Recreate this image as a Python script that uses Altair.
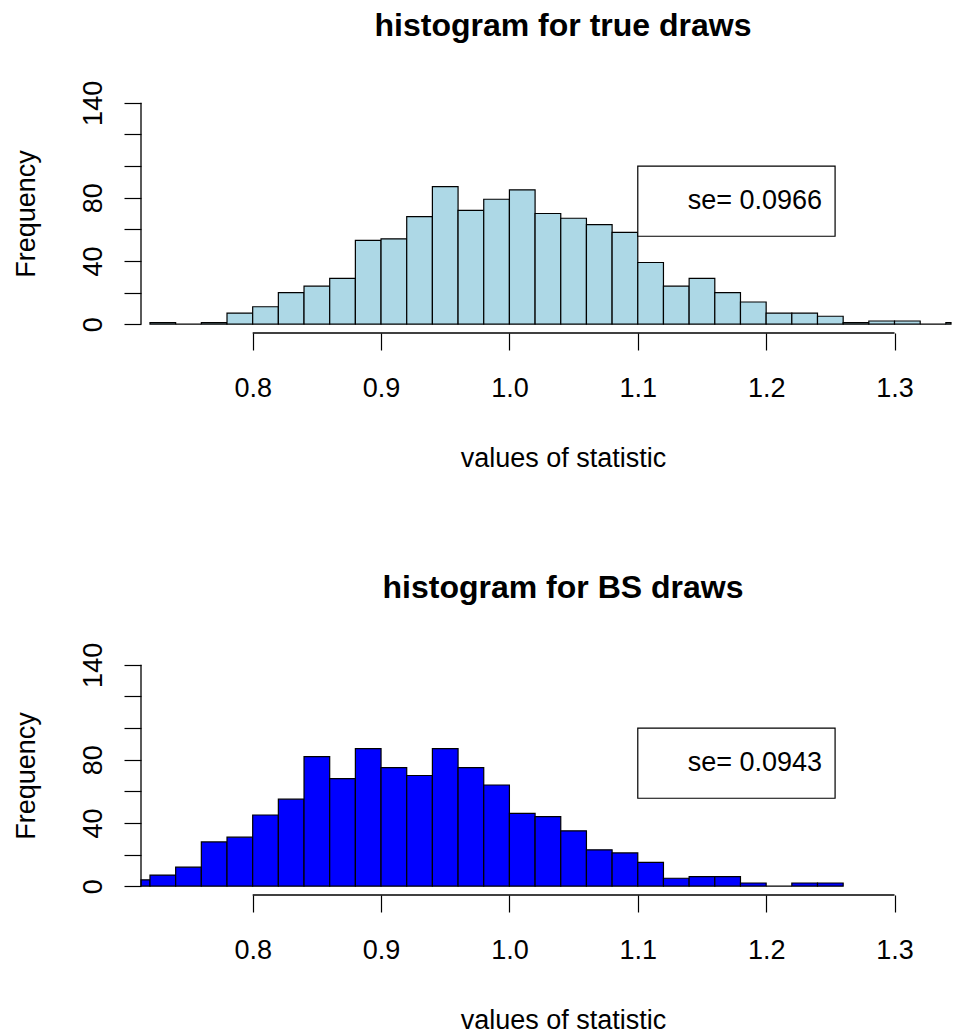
import altair as alt
import pandas as pd

# ---------------- data ----------------
bin_width = 0.02

true_lo = [0.72, 0.74, 0.76, 0.78, 0.80, 0.82, 0.84, 0.86, 0.88, 0.90, 0.92,
           0.94, 0.96, 0.98, 1.00, 1.02, 1.04, 1.06, 1.08, 1.10, 1.12, 1.14,
           1.16, 1.18, 1.20, 1.22, 1.24, 1.26, 1.28, 1.30, 1.32, 1.34]
true_counts = [1, 0, 1, 7, 11, 20, 24, 29, 53, 54, 68,
               87, 72, 79, 85, 70, 67, 63, 58, 39, 24, 29,
               20, 14, 7, 7, 5, 1, 2, 2, 0, 1]

bs_lo = [0.70, 0.72, 0.74, 0.76, 0.78, 0.80, 0.82, 0.84, 0.86, 0.88, 0.90,
         0.92, 0.94, 0.96, 0.98, 1.00, 1.02, 1.04, 1.06, 1.08, 1.10, 1.12,
         1.14, 1.16, 1.18, 1.20, 1.22, 1.24]
bs_counts = [4, 7, 12, 28, 31, 45, 55, 82, 68, 87, 75,
             70, 87, 75, 64, 46, 44, 35, 23, 21, 15, 5,
             6, 6, 2, 0, 2, 2]

x_ticks = [0.8, 0.9, 1.0, 1.1, 1.2, 1.3]
y_ticks = [0, 20, 40, 60, 80, 100, 120, 140]
y_labelled = [0, 40, 80, 140]

titles = ["histogram for true draws", "histogram for BS draws"]
se_labels = ["se= 0.0966", "se= 0.0943"]
fills = ["#ADD8E6", "#0000FF"]

# legend box (data coordinates, as placed by legend(x=1.1, y=100))
legend_x = [1.1, 1.2537]
legend_y = [100, 55.6]

# plot region (R style: 4% padding of ylim)
x_domain = [0.713, 1.344]
ylim = [0, 140]
y_domain = [ylim[0] - 0.04 * (ylim[1] - ylim[0]), ylim[1] + 0.04 * (ylim[1] - ylim[0])]

FONT = "Liberation Sans"
W, H = 810, 239


def panel(lo, counts, fill, title, se_text):
    df = pd.DataFrame({
        "lo": lo,
        "hi": [round(v + bin_width, 4) for v in lo],
        "count": counts,
    })
    # clamp: bars that run past the plot edge stop at the edge (like R's clipping)
    xscale = alt.Scale(domain=x_domain, nice=False, zero=False, clamp=True, padding=0)
    yscale = alt.Scale(domain=y_domain, nice=False, zero=False, padding=0)

    xaxis = alt.Axis(
        values=x_ticks, tickCount=len(x_ticks), format=".1f", domain=False, grid=False,
        tickSize=17, tickColor="black", tickWidth=1.2,
        labelFont=FONT, labelFontSize=27, labelColor="black",
        labelBaseline="alphabetic", labelPadding=46, labelFlush=False,
        labelOverlap=False,
        title="values of statistic", titleFont=FONT, titleFontSize=27,
        titleFontWeight="normal", titleColor="black",
        titleX=422, titleY=133, titleAlign="center", titleBaseline="alphabetic",
    )
    yaxis = alt.Axis(
        values=y_ticks, tickCount=len(y_ticks), domain=False, grid=False,
        tickSize=17, tickColor="black", tickWidth=1.2,
        labelFont=FONT, labelFontSize=27, labelColor="black",
        labelAngle=-90, labelAlign="center", labelBaseline="alphabetic",
        labelPadding=23, labelFlush=False, labelOverlap=False,
        labelExpr="indexof(" + str(y_labelled) + ", datum.value) >= 0 ? datum.label : ''",
        title="Frequency", titleFont=FONT, titleFontSize=27,
        titleFontWeight="normal", titleColor="black",
        titleAngle=-90, titleX=-107, titleY=H / 2,
        titleAlign="center", titleBaseline="alphabetic",
    )

    bars = alt.Chart(df).mark_rect(
        fill=fill, stroke="black", strokeWidth=1.2
    ).encode(
        x=alt.X("lo:Q", scale=xscale, axis=xaxis),
        x2="hi:Q",
        y=alt.Y("count:Q", scale=yscale, axis=yaxis),
        y2=alt.datum(0),
    )

    axis_df = pd.DataFrame({
        "x0": [x_ticks[0]], "x1": [x_ticks[-1]],
        "y0": [ylim[0]], "y1": [ylim[1]],
        "xl": [x_domain[0]], "yb": [y_domain[0]],
    })
    x_line = alt.Chart(axis_df).mark_rule(color="black", strokeWidth=1.3).encode(
        x=alt.X("x0:Q"), x2="x1:Q", y=alt.Y("yb:Q")
    )
    y_line = alt.Chart(axis_df).mark_rule(color="black", strokeWidth=1.3).encode(
        x=alt.X("xl:Q"), y=alt.Y("y0:Q"), y2="y1:Q"
    )

    leg_df = pd.DataFrame({
        "x0": [legend_x[0]], "x1": [legend_x[1]],
        "y0": [legend_y[0]], "y1": [legend_y[1]],
        "ym": [(legend_y[0] + legend_y[1]) / 2],
        "label": [se_text],
    })
    box = alt.Chart(leg_df).mark_rect(
        fill="white", stroke="black", strokeWidth=1.2
    ).encode(
        x=alt.X("x0:Q"), x2="x1:Q",
        y=alt.Y("y0:Q"), y2="y1:Q",
    )
    txt = alt.Chart(leg_df).mark_text(
        align="right", baseline="middle", dx=-13,
        font=FONT, fontSize=27, color="black"
    ).encode(
        x=alt.X("x1:Q"), y=alt.Y("ym:Q"), text="label:N"
    )

    return alt.layer(bars, x_line, y_line, box, txt).properties(
        width=W, height=H,
        title=alt.TitleParams(
            text=title, font=FONT, fontSize=32, fontWeight="bold",
            color="black", anchor="middle", frame="group",
            baseline="alphabetic", offset=12, dx=17,
        ),
    )


top = panel(true_lo, true_counts, fills[0], titles[0], se_labels[0])
bottom = panel(bs_lo, bs_counts, fills[1], titles[1], se_labels[1])

chart = alt.vconcat(top, bottom, spacing=101).properties(
    padding={"left": 4, "top": 2, "right": 0, "bottom": 0},
    background="white",
).configure_view(stroke=None)

chart.save("out.html", embed_options={"renderer": "svg", "actions": False})
